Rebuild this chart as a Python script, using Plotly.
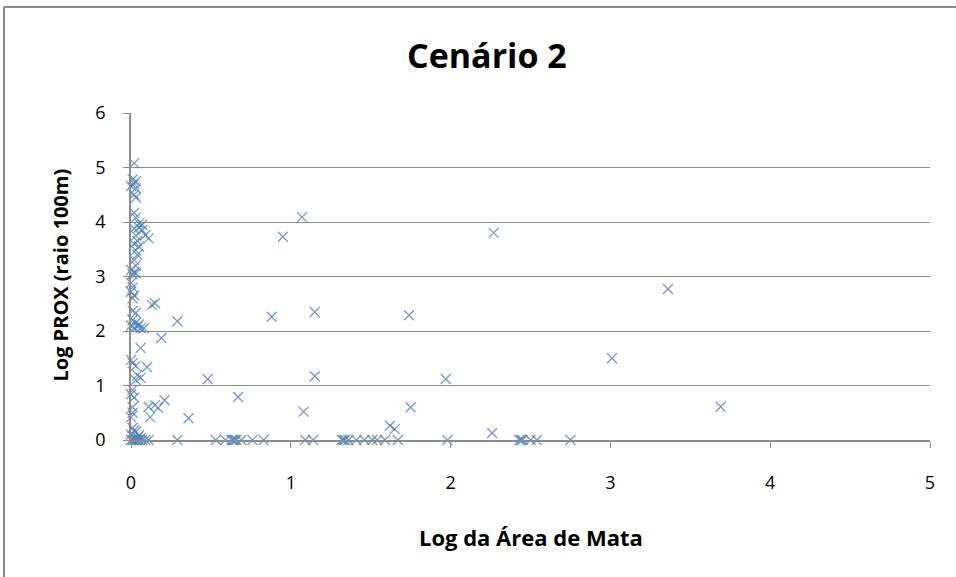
import plotly.graph_objects as go

# Cluster near x ~ 0
x_cluster = [0.02, 0.01, 0.03, 0.02, 0.0, 0.03, 0.02, 0.03,
             0.02, 0.03, 0.05, 0.07, 0.05, 0.02, 0.07, 0.09, 0.11, 0.03, 0.04, 0.02, 0.05, 0.03, 0.04, 0.02, 0.03,
             0.0, 0.02, 0.01, 0.03,
             0.0, 0.01, 0.0, 0.02, 0.01,
             0.01, 0.03, 0.01, 0.03, 0.05, 0.0, 0.02, 0.06, 0.08, 0.04,
             0.13, 0.15, 0.29, 0.19, 0.06,
             0.0, 0.01, 0.03, 0.10, 0.04, 0.06, 0.03,
             0.01, 0.0, 0.02, 0.21, 0.15, 0.17, 0.11, 0.12, 0.36, 0.01, 0.0, 0.01,
             0.01, 0.03, 0.0, 0.04, 0.02, 0.05, 0.06,
             0.0, 0.01, 0.02, 0.03, 0.04, 0.05, 0.07, 0.09, 0.11, 0.29]
y_cluster = [5.08, 4.78, 4.75, 4.70, 4.66, 4.62, 4.50, 4.45,
             4.17, 4.08, 3.97, 3.95, 3.90, 3.88, 3.85, 3.76, 3.70, 3.75, 3.65, 3.60, 3.55, 3.48, 3.40, 3.30, 3.20,
             3.12, 3.08, 3.04, 3.06,
             2.88, 2.80, 2.72, 2.65, 2.60,
             2.37, 2.33, 2.20, 2.15, 2.12, 2.10, 2.06, 2.05, 2.05, 2.08,
             2.48, 2.51, 2.18, 1.87, 1.69,
             1.47, 1.41, 1.36, 1.34, 1.19, 1.14, 1.10,
             0.92, 0.84, 0.78, 0.73, 0.64, 0.59, 0.61, 0.42, 0.40, 0.50, 0.42, 0.60,
             0.22, 0.15, 0.10, 0.05, 0.18, 0.08, 0.03,
             0.0, 0.0, 0.0, 0.0, 0.0, 0.0, 0.0, 0.0, 0.0, 0.0]

# Scattered points
x_spread = [0.48, 0.67, 0.88, 0.95, 1.07, 1.08, 1.15, 1.15, 1.74, 1.75, 1.97,
            1.62, 1.65, 2.27, 2.26, 3.01, 3.36, 3.69]
y_spread = [1.12, 0.79, 2.26, 3.73, 4.09, 0.52, 2.35, 1.17, 2.29, 0.60, 1.12,
            0.26, 0.20, 3.80, 0.13, 1.50, 2.77, 0.61]

# Points lying on y = 0
x_zero = [0.53, 0.59, 0.63, 0.64, 0.65, 0.66, 0.69, 0.76, 0.83, 1.09, 1.14,
          1.32, 1.33, 1.34, 1.36, 1.41, 1.46, 1.51, 1.54, 1.59, 1.67, 1.98,
          2.43, 2.44, 2.45, 2.50, 2.54, 2.75]
y_zero = [0.0] * len(x_zero)

xs = x_cluster + x_spread + x_zero
ys = y_cluster + y_spread + y_zero

x_ticks = [0, 1, 2, 3, 4, 5]
y_ticks = [0, 1, 2, 3, 4, 5, 6]

FONT = "Open Sans"
GRID = "#8c8c8c"

fig = go.Figure()
fig.add_trace(go.Scatter(
    x=xs, y=ys, mode="markers", cliponaxis=False,
    marker=dict(symbol="x-thin", size=10, opacity=0.8,
                line=dict(width=1.3, color="#4f81bd"), color="#4f81bd"),
    showlegend=False,
))

fig.update_layout(
    width=956, height=577,
    margin=dict(l=131, r=26, t=113, b=137),
    paper_bgcolor="white", plot_bgcolor="white",
    font=dict(family=FONT, color="#000000"),
    xaxis=dict(range=[0, 5], tickvals=x_ticks, ticks="outside", ticklen=6,
               tickcolor=GRID, showgrid=False, showline=True, linecolor=GRID,
               linewidth=1.5, zeroline=False, tickfont=dict(size=18),
               ticklabelstandoff=20),
    yaxis=dict(range=[0, 6], tickvals=y_ticks, ticks="outside", ticklen=6,
               tickcolor=GRID, showgrid=True, gridcolor=GRID, gridwidth=1.3,
               showline=True, linecolor=GRID, linewidth=1.5, zeroline=False,
               tickfont=dict(size=18), ticklabelstandoff=14),
    annotations=[
        dict(text="<b>Cenário 2</b>", x=0.446, y=1.177, xref="paper", yref="paper",
             showarrow=False, font=dict(size=34, family=FONT), xanchor="center", yanchor="middle"),
        dict(text="<b>Log da Área de Mata</b>", x=0.5, y=-0.297, xref="paper", yref="paper",
             showarrow=False, font=dict(size=22, family=FONT), xanchor="center", yanchor="middle"),
        dict(text="<b>Log PROX (raio 100m)</b>", x=-0.088, y=0.505, xref="paper", yref="paper",
             showarrow=False, textangle=-90, font=dict(size=20, family=FONT),
             xanchor="center", yanchor="middle"),
    ],
    shapes=[
        dict(type="line", xref="paper", yref="paper", x0=-0.159, x1=1.04, y0=1.324, y1=1.324,
             line=dict(color="#888888", width=2)),
        dict(type="line", xref="paper", yref="paper", x0=-0.159, x1=-0.159, y0=1.324, y1=-0.43,
             line=dict(color="#888888", width=2)),
    ],
)

fig.write_html("out.html")
